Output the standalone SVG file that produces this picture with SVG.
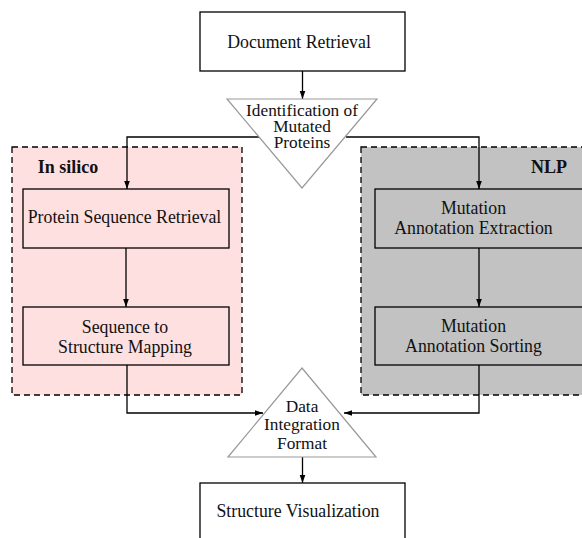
<svg xmlns="http://www.w3.org/2000/svg" width="582" height="538" viewBox="0 0 582 538">
<defs>
<marker id="ah" viewBox="0 0 10 10" refX="10" refY="5" markerWidth="8" markerHeight="8" markerUnits="userSpaceOnUse" orient="auto"><path d="M0,1.5 L10,5 L0,8.5 Z" fill="#000"/></marker>
<style>
.box{fill:none;stroke:#000;stroke-width:1.3}
.tri{fill:#fff;stroke:#999;stroke-width:1.2}
.grp{stroke:#000;stroke-width:1.3;stroke-dasharray:6,4}
.t{font-family:"Liberation Serif","Times New Roman",serif;font-size:17.8px;fill:#111;text-anchor:middle}
.s{font-size:17.3px}
.b{font-weight:bold;font-size:18px}
.c{fill:none;stroke:#000;stroke-width:1.3;marker-end:url(#ah)}
</style>
</defs>
<rect width="582" height="538" fill="#fff"/>
<g id="insilico">
<rect x="12" y="147" width="230" height="248" fill="#ffe0e0" class="grp"/>
<text class="t b" x="68" y="173">In silico</text>
</g>
<g id="nlp">
<rect x="361" y="147" width="225" height="248" fill="#c2c2c2" class="grp"/>
<text class="t b" x="549" y="173">NLP</text>
</g>
<g id="connectors">
<path class="c" d="M302.5,71 V99"/>
<path class="c" d="M259,137 H127 V189"/>
<path class="c" d="M346,137 H479 V189"/>
<path class="c" d="M126,248 V307"/>
<path class="c" d="M479,248 V307"/>
<path class="c" d="M127,365 V413 H263"/>
<path class="c" d="M479,365 V413 H344"/>
<path class="c" d="M302.5,457 V483"/>
</g>
<g id="doc">
<rect class="box" x="200" y="12" width="205" height="59" fill="#fff"/>
<text class="t" x="299" y="47.5">Document Retrieval</text>
</g>
<g id="ident">
<path class="tri" d="M227,99 H377 L302,188 Z"/>
<text class="t s" x="302" y="115.5">Identification of</text>
<text class="t s" x="302" y="132">Mutated</text>
<text class="t s" x="302" y="148">Proteins</text>
</g>
<g id="psr">
<rect class="box" x="23" y="189" width="206" height="59"/>
<text class="t" x="124.5" y="223">Protein Sequence Retrieval</text>
</g>
<g id="ssm">
<rect class="box" x="23" y="307" width="206" height="58"/>
<text class="t" x="125" y="333">Sequence to</text>
<text class="t" x="125" y="353">Structure Mapping</text>
</g>
<g id="mae">
<rect class="box" x="375" y="189" width="210" height="59"/>
<text class="t" x="473.5" y="214">Mutation</text>
<text class="t" x="473.5" y="234">Annotation Extraction</text>
</g>
<g id="mas">
<rect class="box" x="375" y="307" width="210" height="58"/>
<text class="t" x="473.5" y="332">Mutation</text>
<text class="t" x="473.5" y="352">Annotation Sorting</text>
</g>
<g id="dif">
<path class="tri" d="M302,368 L376,457 H228 Z"/>
<text class="t s" x="302" y="412">Data</text>
<text class="t s" x="302" y="430">Integration</text>
<text class="t s" x="302" y="449">Format</text>
</g>
<g id="sv">
<rect class="box" x="200" y="483" width="205" height="62" fill="#fff"/>
<text class="t" x="298" y="517">Structure Visualization</text>
</g>
</svg>
